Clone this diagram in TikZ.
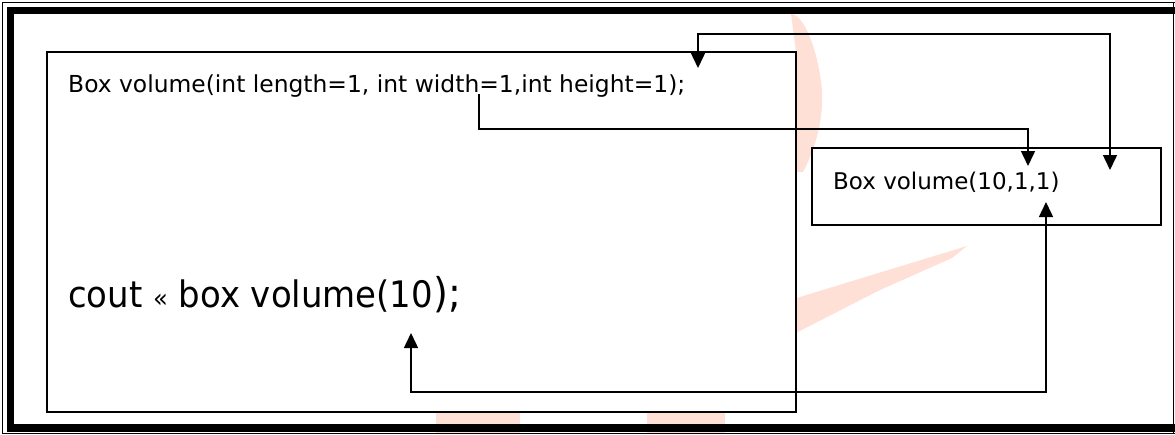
\documentclass[tikz,border=0pt]{standalone}
\usepackage{fontspec}
\setmainfont{DejaVu Sans}
\newfontfamily\coutfont{DejaVu Sans}[FakeStretch=0.93]
\usetikzlibrary{arrows.meta}
\definecolor{wm}{RGB}{255,224,215}
\begin{document}
\begin{tikzpicture}[x=1pt,y=-1pt,
  box/.style={draw=black,line width=1.5pt,fill=white,inner sep=0pt},
  conn/.style={line width=1.5pt},
  tri/.tip={Triangle[width=14pt,length=15pt]},
  lbl/.style={anchor=base west,inner sep=0pt}]
\useasboundingbox (0,0) rectangle (1175,434);
% watermark
\fill[wm] (791,14) .. controls (804,14) and (818,50) .. (822,90) .. controls (824,125) and (812,155) .. (803,172) -- (796,172) -- (796,52) -- cycle;
\fill[wm] (790,300) -- (967,246) -- (952,258) -- (880,290) -- (790,336) -- cycle;
\fill[wm] (436,405) rectangle (520,434);
\fill[wm] (647,405) rectangle (725,434);
% frame
\draw[line width=1pt] (1175,2) -- (2,2) -- (2,433) -- (1175,433);
\draw[line width=1pt] (1173.5,2) -- (1173.5,433);
\draw[line width=7.5pt] (1180,10.5) -- (10.5,10.5) -- (10.5,428) -- (1180,428);
% boxes
\node[box,minimum width=749pt,minimum height=360pt] (lbox) at (421.5,232) {};
\node[box,minimum width=349pt,minimum height=77pt] (rbox) at (986.5,186.5) {};
% texts
\node[lbl,font=\fontsize{23.4}{28}\selectfont] (sig) at (68,92) {Box volume(int length=1, int width=1,int height=1);};
\node[lbl,font=\fontsize{23}{28}\selectfont] (rcall) at (833,189) {Box volume(10,1,1)};
\node[lbl,font=\coutfont\fontsize{36.5}{40}\selectfont] (call) at (68,307) {cout {\fontsize{26}{28}\selectfont «} box volume(10{\fontsize{41}{44}\selectfont );}};
% connector points
\coordinate (t1) at (698,68);
\coordinate (j1) at (1110,34);
\coordinate (t2) at (1110,170);
\coordinate (s2) at (479,94);
\coordinate (j2) at (1028,129);
\coordinate (t3) at (1028,166);
\coordinate (t4) at (1046,202);
\coordinate (j3) at (1046,392);
\coordinate (t5) at (411,333);
% connectors
\draw[conn,tri-tri] (t1) |- (j1) -- (t2);
\draw[conn,-tri] (s2) |- (j2) -- (t3);
\draw[conn,tri-tri] (t4) -- (j3) -| (t5);
\end{tikzpicture}
\end{document}
